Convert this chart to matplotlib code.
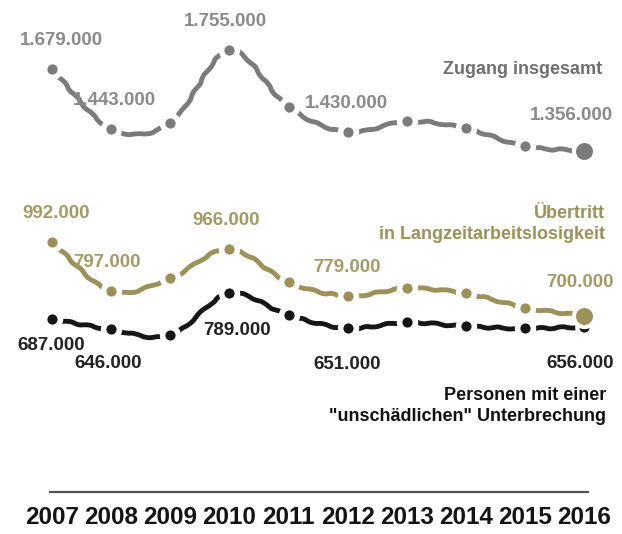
import matplotlib
matplotlib.use("Agg")
import numpy as np
import matplotlib.pyplot as plt
from matplotlib import font_manager
from matplotlib.path import Path
from matplotlib.patches import PathPatch

# Data
years = [2007, 2008, 2009, 2010, 2011, 2012, 2013, 2014, 2015, 2016]
zugang = [1679000, 1443000, 1465000, 1755000, 1528000, 1430000, 1473000, 1445000, 1373000, 1356000]
uebertritt = [992000, 797000, 849000, 966000, 833000, 779000, 809000, 789000, 733000, 700000]
unschaedlich = [687000, 646000, 622000, 789000, 702000, 651000, 674000, 658000, 650000, 656000]
labelled = [0, 1, 3, 5, 9]

series_names = ["Zugang insgesamt",
                "Übertritt\nin Langzeitarbeitslosigkeit",
                "Personen mit einer\n\"unschädlichen\" Unterbrechung"]


def pick_font(candidates):
    for name in candidates:
        try:
            font_manager.findfont(font_manager.FontProperties(family=name),
                                  fallback_to_default=False)
            return name
        except Exception:
            continue
    return "DejaVu Sans"


def smooth_path(xs, ys):
    """Cubic Bezier path passing through every point (Catmull-Rom tangents)."""
    p = np.column_stack([xs, ys]).astype(float)
    n = len(p)
    tang = np.zeros_like(p)
    tang[1:-1] = (p[2:] - p[:-2]) / 2
    tang[0] = p[1] - p[0]
    tang[-1] = p[-1] - p[-2]
    verts = [p[0]]
    codes = [Path.MOVETO]
    for i in range(n - 1):
        verts += [p[i] + tang[i] / 3, p[i + 1] - tang[i + 1] / 3, p[i + 1]]
        codes += [Path.CURVE4] * 3
    return Path(verts, codes)


base_font = pick_font(["Liberation Sans", "Arial", "DejaVu Sans"])
narrow_font = pick_font(["Liberation Sans Narrow", "Arial Narrow", base_font])
plt.rcParams["font.family"] = [base_font, "DejaVu Sans"]

GREY = "#7b7b7b"
GREY_TXT = "#8a8a8a"
GOLD = "#9b9159"
GOLD_TXT = "#a39b65"
BLACK = "#161616"

W, H = 622, 534
fig = plt.figure(figsize=(W / 100, H / 100), dpi=100)
ax = fig.add_axes([0, (H - 492) / H, 1, 492 / H])
ax.set_xlim(2006.12, 2016.64)
ax.set_ylim(0, 1955000)

for s in ["top", "right", "left"]:
    ax.spines[s].set_visible(False)
ax.spines["bottom"].set_bounds(2006.97, 2016.07)
ax.spines["bottom"].set_color("#555555")
ax.spines["bottom"].set_linewidth(1.6)
ax.set_yticks([])
ax.set_xticks(years)
ax.set_xticklabels([str(y) for y in years], fontfamily=narrow_font,
                   fontweight="bold", fontsize=17.5, color="#141414")
ax.tick_params(axis="x", length=0, pad=10)

# (values, line colour, label colour, final dot size, label offsets in px)
specs = [
    (zugang, GREY, GREY_TXT, 12.2,
     [(9, -29), (3, -28), (-4, -29), (-1, -29), (-13, -35)]),
    (uebertritt, GOLD, GOLD_TXT, 12.2,
     [(4, -29), (-4, -29), (-3, -28), (-1, -28), (-4, -33)]),
    (unschaedlich, BLACK, "#222222", 7.4,
     [(-1, 26), (-3, 34), (8, 37), (-1, 36), (-4, 37)]),
]

gap = 4.0       # white ring around each dot, in points
last_gap = 3.0  # thinner ring around the final dots
for z, (vals, col, tcol, last_size, offs) in enumerate(specs):
    curve = PathPatch(smooth_path(years, vals), fill=False, edgecolor=col,
                      lw=3.5, capstyle="butt", zorder=2)
    curve.set_sketch_params(scale=0.8, length=24, randomness=2)
    ax.add_patch(curve)
    ax.plot(years[:-1], vals[:-1], "o", ms=7.4 + gap, mew=gap, mfc=col,
            mec="white", zorder=5 + z)
    ax.plot(years[-1:], vals[-1:], "o", ms=last_size + last_gap, mew=last_gap,
            mfc=col, mec="white", zorder=8 - z)
    for i, (dx, dy) in zip(labelled, offs):
        ax.annotate(f"{vals[i]:,}".replace(",", "."), (years[i], vals[i]),
                    xytext=(dx * 0.72, -dy * 0.72), textcoords="offset points",
                    ha="center", va="center", fontsize=13.5, color=tcol,
                    fontweight="bold", zorder=10)

fig.text(602 / W, 1 - 70 / H, series_names[0], ha="right", va="center",
         fontsize=13, fontweight="bold", color="#6f6f6f", linespacing=1.25)
fig.text(605 / W, 1 - 224 / H, series_names[1], ha="right", va="center",
         fontsize=13, fontweight="bold", color=GOLD, linespacing=1.25)
fig.text(606 / W, 1 - 406 / H, series_names[2], ha="right", va="center",
         fontsize=13, fontweight="bold", color="#111111", linespacing=1.25)

fig.savefig("out.png", dpi=100, facecolor="white")
